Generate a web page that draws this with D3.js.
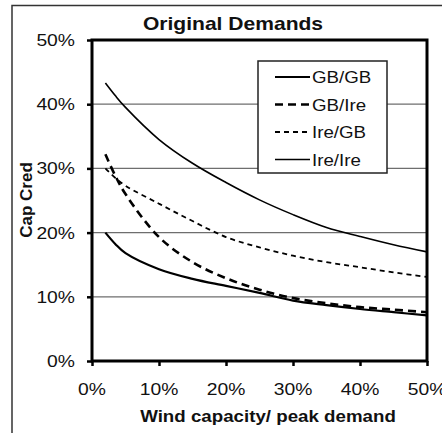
<!DOCTYPE html>
<html><head><meta charset="utf-8">
<script src="https://cdn.jsdelivr.net/npm/d3@7"></script>
<style>body{margin:0;background:#fff}svg{display:block}text{font-family:"Liberation Sans",Arial,sans-serif;fill:#111}</style>
</head><body>
<svg id="c" width="442" height="433"></svg>
<script>
const xVals = [0.02,0.035,0.05,0.10,0.15,0.20,0.25,0.30,0.35,0.40,0.45,0.50];
const gbgb  = [0.200,0.182,0.168,0.143,0.128,0.117,0.106,0.094,0.087,0.081,0.076,0.071];
const gbire = [0.322,0.288,0.260,0.193,0.154,0.129,0.111,0.098,0.090,0.084,0.080,0.076];
const iregb = [0.300,0.285,0.273,0.245,0.218,0.193,0.177,0.164,0.154,0.146,0.138,0.131];
const ireire= [0.433,0.413,0.395,0.345,0.308,0.278,0.251,0.228,0.208,0.194,0.181,0.170];
const seriesNames = ["GB/GB","GB/Ire","Ire/GB","Ire/Ire"];
const yTicks = [0,0.1,0.2,0.3,0.4,0.5];
const xTicks = [0,0.1,0.2,0.3,0.4,0.5];
const title = "Original  Demands";
const xTitle = "Wind capacity/ peak demand";
const yTitle = "Cap Cred";

const series = [gbgb,gbire,iregb,ireire];
const styles = [
  {w:2.2, dash:null},
  {w:2.6, dash:"8,5"},
  {w:1.8, dash:"5,4"},
  {w:1.6, dash:null}
];
const SX = 1.17;
const svg = d3.select("#c");
const L=92,R=427,T=40,B=361;
const x = d3.scaleLinear().domain([0,0.5]).range([L,R]);
const y = d3.scaleLinear().domain([0,0.5]).range([B,T]);
const fmt = d3.format(".0%");

// outer frame
svg.append("path").attr("d",`M12,433V5.5H442`).attr("fill","none").attr("stroke","#333").attr("stroke-width",1.5);

function stext(px,py,str,size,anchor,weight){
  const g = svg.append("g").attr("transform",`translate(${px},${py}) scale(${SX},1)`);
  g.append("text").attr("text-anchor",anchor).attr("font-size",size).attr("font-weight",weight||"normal").text(str);
  return g;
}

// gridlines
svg.append("g").selectAll("line").data(yTicks.slice(1,-1)).join("line")
  .attr("x1",L).attr("x2",R).attr("y1",d=>y(d)).attr("y2",d=>y(d))
  .attr("stroke","#6e6e6e").attr("stroke-width",1.2);

// axes ticks
const ya = svg.append("g").attr("transform",`translate(${L},0)`)
  .call(d3.axisLeft(y).tickValues(yTicks).tickSize(5).tickFormat(""));
const xa = svg.append("g").attr("transform",`translate(0,${B})`)
  .call(d3.axisBottom(x).tickValues(xTicks).tickSize(5).tickFormat(""));
[ya,xa].forEach(a=>{a.select(".domain").remove();a.selectAll("line").attr("stroke","#000").attr("stroke-width",2.5);});

yTicks.forEach(t=>stext(75,y(t)+6,fmt(t),16.5,"end"));
xTicks.forEach(t=>stext(x(t),395,fmt(t),16.5,"middle"));

// lines
const line = d3.line().x((d,i)=>x(xVals[i])).y(d=>y(d)).curve(d3.curveCatmullRom.alpha(0.5));
series.forEach((s,k)=>{
  svg.append("path").datum(s).attr("d",line).attr("fill","none")
    .attr("stroke","#000").attr("stroke-width",styles[k].w)
    .attr("stroke-dasharray",styles[k].dash);
});

// plot frame
svg.append("rect").attr("x",L).attr("y",T).attr("width",R-L).attr("height",B-T)
  .attr("fill","none").attr("stroke","#000").attr("stroke-width",3);

// legend
const lg = svg.append("g");
lg.append("rect").attr("x",258).attr("y",61).attr("width",129).attr("height",112)
  .attr("fill","#fff").attr("stroke","#222").attr("stroke-width",1.5);
seriesNames.forEach((n,k)=>{
  const ly = 77 + k*27.5;
  lg.append("line").attr("x1",275).attr("x2",310).attr("y1",ly).attr("y2",ly)
    .attr("stroke","#000").attr("stroke-width",styles[k].w).attr("stroke-dasharray",styles[k].dash);
  stext(312,ly+6,n,16,"start");
});

// titles
stext(233,30,title,18,"middle","bold");
stext(268,422,xTitle,16,"middle","bold");
svg.append("text").attr("transform","translate(32,200) rotate(-90)").attr("text-anchor","middle")
  .attr("font-size",17).attr("font-weight","bold").text(yTitle);
</script>
</body></html>
